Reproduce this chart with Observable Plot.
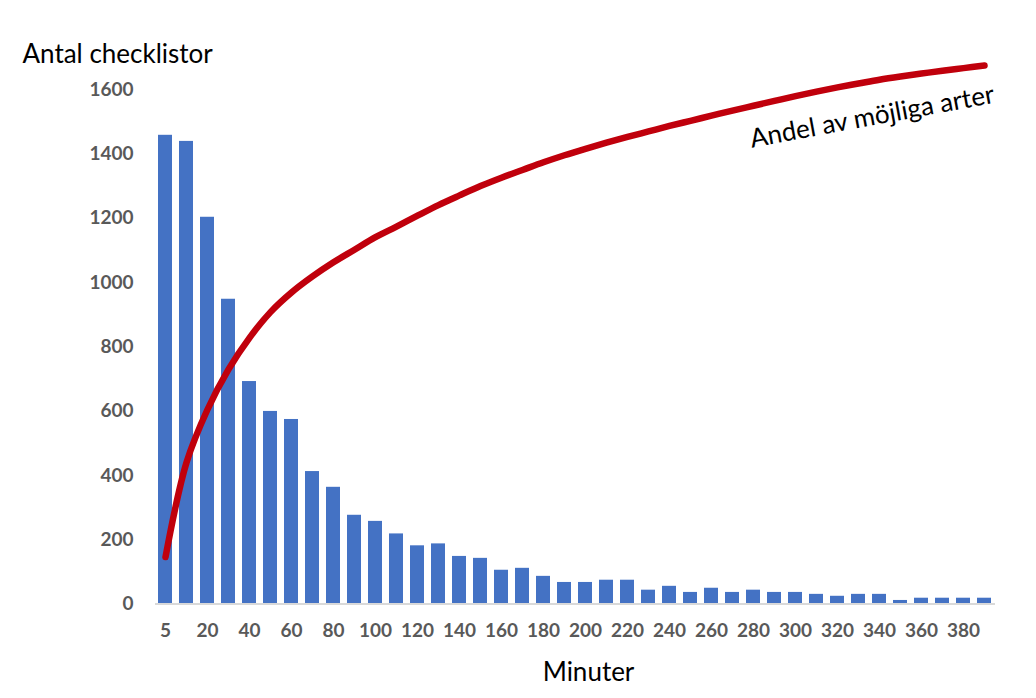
<!DOCTYPE html>
<html>
<head>
<meta charset="utf-8">
<script src="https://cdn.jsdelivr.net/npm/d3@7"></script>
<script src="https://cdn.jsdelivr.net/npm/@observablehq/plot@0.6"></script>
<style>
  html, body { margin: 0; padding: 0; background: #fff; }
  svg { display: block; }
</style>
</head>
<body>
<div id="chart"></div>
<script>
// Categories (minutes)
const minutes = [5,10,20,30,40,50,60,70,80,90,100,110,120,130,140,150,160,170,180,190,200,210,220,230,240,250,260,270,280,290,300,310,320,330,340,350,360,370,380,390];
// Number of checklists per duration
const checklists = [1458,1439,1203,948,692,599,574,412,363,276,257,218,181,187,148,142,105,111,86,67,67,74,74,43,55,36,49,36,43,36,36,30,24,30,30,11,18,18,18,18];
// Share of possible species (drawn on the same visual scale as the bars)
const shareLine = [146,440,605,730,828,908,969,1019,1063,1102,1141,1174,1208,1241,1271,1300,1326,1350,1374,1396,1416,1435,1453,1470,1487,1503,1519,1535,1550,1565,1580,1594,1607,1619,1631,1641,1650,1659,1667,1675];
// Tick labels
const xTickLabels = [5,20,40,60,80,100,120,140,160,180,200,220,240,260,280,300,320,340,360,380];
const yTicks = [0,200,400,600,800,1000,1200,1400,1600];

const data = minutes.map((m, i) => ({m, n: checklists[i], share: shareLine[i]}));

const font = "Lato, 'Open Sans', sans-serif";

const chart = Plot.plot({
  width: 1036,
  height: 698,
  marginLeft: 155,
  marginRight: 41,
  marginTop: 57,
  marginBottom: 94.5,
  style: {fontFamily: font, background: "#fff"},
  x: {type: "band", domain: minutes, paddingInner: 0.33, paddingOuter: 0.135, axis: null},
  y: {domain: [0, 1700], axis: null},
  marks: [
    Plot.barY(data, {x: "m", y: "n", fill: "#4472C4"}),
    Plot.ruleY([0], {stroke: "#d9d9d9", strokeWidth: 2}),
    Plot.axisY(yTicks, {tickSize: 0, tickPadding: 22, tickFormat: d => String(d), fontSize: 19, fontWeight: "bold", color: "#595959", label: null}),
    Plot.axisX(xTickLabels, {tickSize: 0, tickPadding: 19, tickFormat: d => String(d), fontSize: 19, fontWeight: "bold", color: "#595959", label: null}),
    Plot.line(data, {x: "m", y: "share", stroke: "#C0000C", strokeWidth: 6.5, curve: "catmull-rom", strokeLinecap: "round", strokeLinejoin: "round"}),
    Plot.text([{m: 390, v: 1560}], {x: "m", y: "v", text: () => "Andel av möjliga arter", textAnchor: "end", lineAnchor: "bottom", rotate: -10.5, dx: 11, fontSize: 26, fill: "#000"}),
    Plot.text(["Antal checklistor"], {frameAnchor: "top-left", textAnchor: "start", lineAnchor: "bottom", dx: -133, dy: 5, fontSize: 26, fill: "#000"}),
    Plot.text(["Minuter"], {frameAnchor: "bottom", textAnchor: "middle", lineAnchor: "bottom", dx: 13, dy: 76.5, fontSize: 26, fill: "#000"})
  ]
});

document.getElementById("chart").appendChild(chart);
</script>
</body>
</html>
